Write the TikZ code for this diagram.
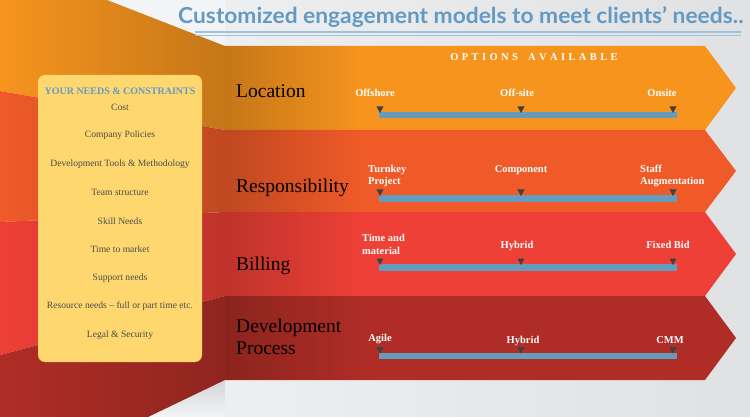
\documentclass[tikz,border=0pt]{standalone}
\usepackage{fontspec}
\setmainfont{Liberation Serif}
\newfontfamily\titlefont{Lato}
\usetikzlibrary{shapes.geometric,fadings}
\definecolor{bg}{RGB}{236,237,239}
\definecolor{bgl}{RGB}{243,244,246}
\definecolor{cA}{RGB}{246,148,30}
\definecolor{cB}{RGB}{240,90,41}
\definecolor{cC}{RGB}{238,64,54}
\definecolor{cD}{RGB}{175,45,38}
\definecolor{boxy}{RGB}{254,216,110}
\definecolor{hdblue}{RGB}{98,155,200}
\definecolor{titleblue}{RGB}{98,154,196}
\definecolor{uline}{RGB}{160,193,218}
\definecolor{barblue}{RGB}{101,155,188}
\definecolor{mark}{RGB}{64,64,64}
\definecolor{itemgrey}{RGB}{75,75,75}
\tikzset{
  cat/.style={anchor=base west, font=\fontsize{19.5}{22}\selectfont, text=black, inner sep=0pt, align=left},
  opt/.style={anchor=base, font=\bfseries\fontsize{10.5}{13}\selectfont, text=white, inner sep=0pt},
  optl/.style={anchor=base west, font=\bfseries\fontsize{10.5}{13}\selectfont, text=white, inner sep=0pt, align=left},
  item/.style={font=\fontsize{9.6}{11}\selectfont, text=itemgrey, inner sep=0pt},
  markr/.style={fill=mark},
  barr/.style={fill=barblue},
  foldshade/.style={fill=black, opacity=0.2, path fading=east}
}
\newcommand{\scalebar}[2]{% #1 name prefix, #2 top y
  \fill[barr] (379,#2) rectangle (677,#2+6.5);
  \foreach \mx/\mn in {380/a,521/b,673/c}{
    \coordinate (#1\mn) at (\mx,#2);
    \fill[markr] ([xshift=-3.5pt,yshift=5.5pt]#1\mn) -- ([xshift=3.5pt,yshift=5.5pt]#1\mn) -- ([yshift=-1pt]#1\mn) -- cycle;
  }
}
\begin{document}
\begin{tikzpicture}[x=1pt,y=-1pt]
\useasboundingbox (0,0) rectangle (750,417);
% background
\fill[left color=bgl, right color=bg!95!black] (0,0) rectangle (750,417);
\fill[bgl] (0,0) rectangle (225,417);
% right bands
\fill[cA] (225,46) -- (705,46) -- (736,88) -- (705,130) -- (225,130) -- cycle;
\fill[cB] (225,130) -- (705,130) -- (736,171) -- (705,212) -- (225,212) -- cycle;
\fill[cC] (225,212) -- (705,212) -- (736,254) -- (705,296) -- (225,296) -- cycle;
\fill[cD] (225,296) -- (705,296) -- (736,338) -- (705,380) -- (225,380) -- cycle;
\fill[foldshade] (225,46) rectangle (360,380);
% left folded panel
\shade[left color=cA, middle color=cA!96!black, right color=cA!80!black]
  (0,0) -- (107,0) -- (225,46) -- (225,130) -- (0,91) -- cycle;
\shade[left color=cB, middle color=cB!96!black, right color=cB!80!black]
  (0,91) -- (225,130) -- (225,212) -- (0,222) -- cycle;
\shade[left color=cC, middle color=cC!96!black, right color=cC!80!black]
  (0,222) -- (225,212) -- (225,296) -- (0,355) -- cycle;
\shade[left color=cD, middle color=cD!96!black, right color=cD!82!black]
  (0,355) -- (225,296) -- (225,380) -- (148,417) -- (0,417) -- cycle;
\fill[black, opacity=0.12, path fading=south] (148,417) -- (225,380) -- (225,417) -- cycle;
% title
\node[anchor=base west, inner sep=0pt, text=titleblue, font=\titlefont\bfseries\fontsize{22}{26}\selectfont] (title) at (178,24) {\scalebox{1.035}[1]{Customized engagement models to meet clients’ needs..}};
\draw[uline, line width=1.2pt] (195,32) -- (741,32);
\draw[uline, line width=1.2pt] (195,35.5) -- (741,35.5);
% needs box
\node[fill=boxy, rounded corners=7pt, minimum width=164pt, minimum height=287pt, inner sep=0pt] (needs) at (120,218.5) {};
\node[font=\bfseries\fontsize{10}{12}\selectfont, text=hdblue, inner sep=0pt] (hdr) at (120,91) {YOUR NEEDS \& CONSTRAINTS};
\node[item] (n1) at (120,107) {Cost};
\node[item] (n2) at (120,135.5) {Company Policies};
\node[item] (n3) at (120,164) {Development Tools \& Methodology};
\node[item] (n4) at (120,192.5) {Team structure};
\node[item] (n5) at (120,221) {Skill Needs};
\node[item] (n6) at (120,249.5) {Time to market};
\node[item] (n7) at (120,278) {Support needs};
\node[item] (n8) at (120,306.5) {Resource needs – full or part time etc.};
\node[item] (n9) at (120,335) {Legal \& Security};
% category labels
\node[cat] (loc) at (236,98) {Location};
\node[cat] (resp) at (236,193) {Responsibility};
\node[cat] (bill) at (236,270) {Billing};
\node[cat] (dev) at (236,354) {Development\\Process};
% options header
\newcommand{\ls}{\hspace{3.4pt}}
\node[anchor=base, inner sep=0pt, text=white, font=\bfseries\fontsize{10.5}{12}\selectfont] (opts) at (534,61) {O\ls P\ls T\ls I\ls O\ls N\ls S\ls\ls\ls A\ls V\ls A\ls I\ls L\ls A\ls B\ls L\ls E};
% scales
\scalebar{s1}{112}
\scalebar{s2}{195}
\scalebar{s3}{264}
\scalebar{s4}{352.5}
% option labels
\node[opt] (o11) at (375,97) {Offshore};
\node[opt] (o12) at (517,97) {Off-site};
\node[opt] (o13) at (662,97) {Onsite};
\node[optl] (o21) at (368,185) {Turnkey\\Project};
\node[opt] (o22) at (521,172) {Component};
\node[optl] (o23) at (640,185) {Staff\\Augmentation};
\node[optl] (o31) at (362,254) {Time and\\material};
\node[opt] (o32) at (517,248) {Hybrid};
\node[opt] (o33) at (668,248) {Fixed Bid};
\node[opt] (o41) at (380,341) {Agile};
\node[opt] (o42) at (523,343) {Hybrid};
\node[opt] (o43) at (670,343) {CMM};
\end{tikzpicture}
\end{document}
